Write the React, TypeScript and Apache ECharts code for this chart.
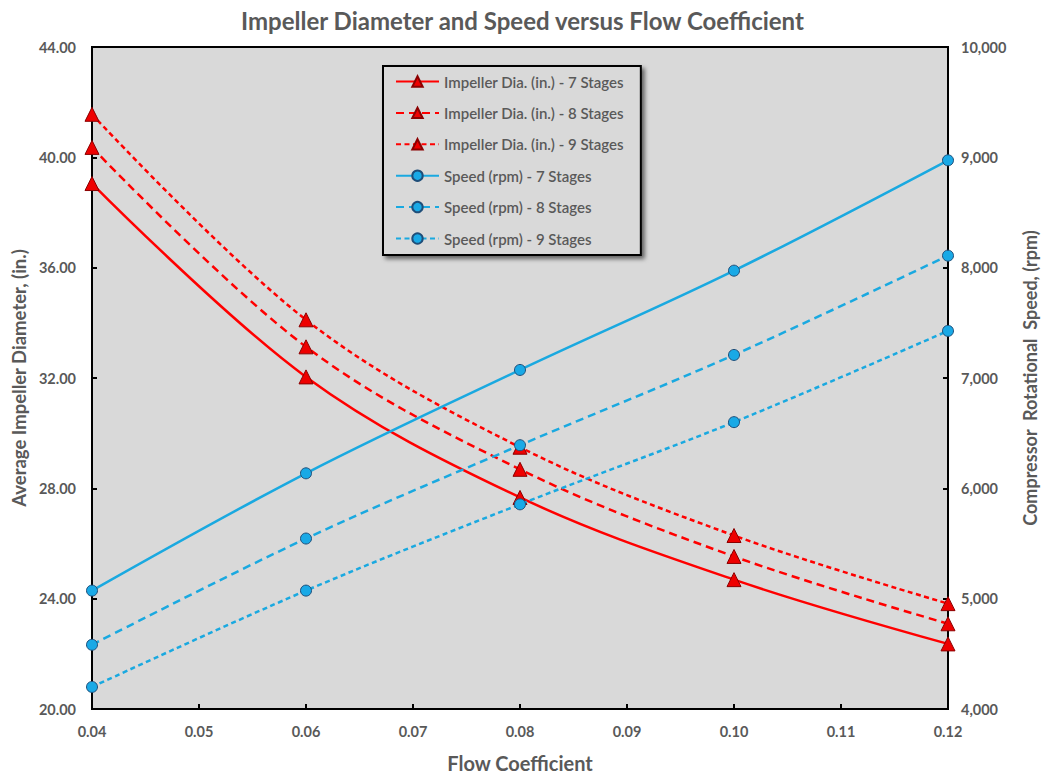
import React, { useEffect, useRef } from "react";
import * as echarts from "echarts";

const flowCoefficient = [0.04, 0.06, 0.08, 0.1, 0.12];
const dia7 = [39.05, 32.04, 27.67, 24.69, 22.36];
const dia8 = [40.36, 33.13, 28.69, 25.53, 23.09];
const dia9 = [41.56, 34.11, 29.49, 26.29, 23.82];
const speed7 = [5073, 6136, 7073, 7973, 8973];
const speed8 = [4582, 5545, 6391, 7209, 8109];
const speed9 = [4200, 5073, 5855, 6600, 7427];
const seriesNames = [
  "Impeller Dia. (in.) - 7 Stages",
  "Impeller Dia. (in.) - 8 Stages",
  "Impeller Dia. (in.) - 9 Stages",
  "Speed (rpm) - 7 Stages",
  "Speed (rpm) - 8 Stages",
  "Speed (rpm) - 9 Stages",
];

const FONT = "Lato, 'Open Sans', sans-serif";
const GRAY = "#595959";
const RED = "#ff0000";
const BLUE = "#1aa9e0";

export default function App() {
  const ref = useRef<HTMLDivElement>(null);
  useEffect(() => {
    if (!ref.current) return;
    const chart = echarts.init(ref.current, undefined, { renderer: "svg" });
    const pts = (ys: number[]) => flowCoefficient.map((x, i) => [x, ys[i]]);
    const dashes: any[] = ["solid", [8, 5], [5, 3.5]];
    const diaSets = [dia7, dia8, dia9];
    const spdSets = [speed7, speed8, speed9];
    const series: any[] = [];
    diaSets.forEach((d, i) => {
      series.push({
        name: seriesNames[i],
        type: "line",
        yAxisIndex: 0,
        data: pts(d),
        smooth: 0.35,
        symbol: "triangle",
        symbolSize: 14,
        lineStyle: { color: RED, width: 2.5, type: dashes[i] },
        itemStyle: { color: "#ee0000", borderColor: "#8b0000", borderWidth: 1 },
        z: 3,
      });
    });
    spdSets.forEach((d, i) => {
      series.push({
        name: seriesNames[i + 3],
        type: "line",
        yAxisIndex: 1,
        data: pts(d),
        smooth: 0.35,
        symbol: "circle",
        symbolSize: 11,
        lineStyle: { color: BLUE, width: 2.5, type: dashes[i] },
        itemStyle: { color: "#19a9e6", borderColor: "#1f4e79", borderWidth: 1 },
        z: 4,
      });
    });
    chart.setOption({
      animation: false,
      backgroundColor: "#ffffff",
      title: {
        text: "Impeller Diameter and Speed versus Flow Coefficient",
        left: "center",
        top: 3,
        textStyle: { fontFamily: FONT, fontSize: 24, fontWeight: "bold", color: GRAY },
      },
      grid: {
        left: 92,
        right: 97,
        top: 47,
        bottom: 65,
        outerBoundsMode: "none",
        containLabel: false,
        show: true,
        backgroundColor: "#d9d9d9",
        borderColor: "#000",
        borderWidth: 2,
      },
      legend: {
        orient: "vertical",
        left: 383,
        top: 66,
        padding: [8, 17, 9, 12],
        itemWidth: 43,
        itemHeight: 13,
        itemGap: 16.4,
        backgroundColor: "#d9d9d9",
        borderColor: "#000",
        borderWidth: 2,
        shadowColor: "rgba(0,0,0,0.55)",
        shadowBlur: 4,
        shadowOffsetX: 3,
        shadowOffsetY: 3,
        textStyle: { fontFamily: FONT, fontSize: 15, color: GRAY, fontWeight: 600 },
        data: seriesNames,
      },
      xAxis: {
        type: "value",
        min: 0.04,
        max: 0.12,
        interval: 0.01,
        name: "Flow Coefficient",
        nameLocation: "middle",
        nameGap: 44,
        nameTextStyle: { fontFamily: FONT, fontSize: 20, fontWeight: "bold", color: GRAY },
        axisLine: { show: true, lineStyle: { color: "#000", width: 2 } },
        axisTick: { show: true, inside: true, length: 5, lineStyle: { color: "#000", width: 2 } },
        splitLine: { show: false },
        axisLabel: {
          margin: 15,
          fontFamily: FONT,
          fontSize: 14.5,
          fontWeight: "bold",
          color: GRAY,
          formatter: (v: number) => v.toFixed(2),
        },
      },
      yAxis: [
        {
          type: "value",
          min: 20,
          max: 44,
          interval: 4,
          name: "Average Impeller Diameter, (in.)",
          nameLocation: "middle",
          nameGap: 64,
          nameTextStyle: { fontFamily: FONT, fontSize: 18.5, fontWeight: "bold", color: GRAY },
          axisLine: { show: true, lineStyle: { color: "#000", width: 2 } },
          axisTick: { show: true, inside: true, length: 5, lineStyle: { color: "#000", width: 2 } },
          splitLine: { show: false },
          axisLabel: {
            margin: 16,
            fontFamily: FONT,
            fontSize: 14.5,
            fontWeight: "bold",
            color: GRAY,
            formatter: (v: number) => v.toFixed(2),
          },
        },
        {
          type: "value",
          min: 4000,
          max: 10000,
          interval: 1000,
          position: "right",
          name: "Compressor  Rotational  Speed, (rpm)",
          nameLocation: "middle",
          nameGap: 73,
          nameTextStyle: { fontFamily: FONT, fontSize: 18, fontWeight: "bold", color: GRAY },
          axisLine: { show: true, lineStyle: { color: "#000", width: 2 } },
          axisTick: { show: true, inside: true, length: 5, lineStyle: { color: "#000", width: 2 } },
          splitLine: { show: false },
          axisLabel: {
            margin: 13,
            fontFamily: FONT,
            fontSize: 14.5,
            fontWeight: "bold",
            color: GRAY,
            formatter: (v: number) => v.toLocaleString("en-US"),
          },
        },
      ],
      series,
    });
    return () => chart.dispose();
  }, []);
  return (
    <div
      ref={ref}
      style={{ position: "fixed", left: 0, top: 0, width: 1045, height: 774 }}
    />
  );
}
